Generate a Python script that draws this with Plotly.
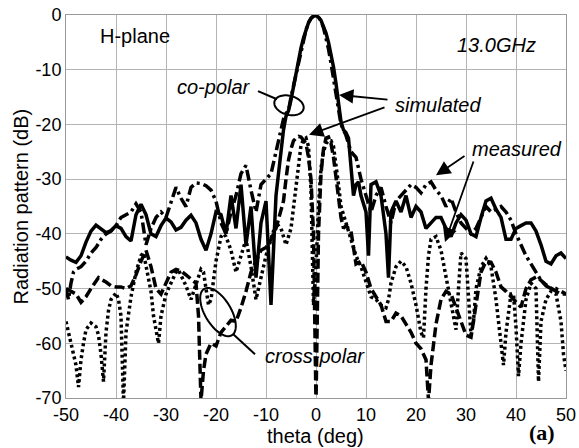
import numpy as np
import plotly.graph_objects as go

# ---------------- data (theta in deg, level in dB) ----------------
co_sim = [(-50,-44.2),(-49,-44.8),(-48,-45.2),(-47,-44),(-46,-41.5),(-45,-39.5),(-44,-38.4),(-43,-39.2),
          (-42,-39.8),(-41,-39.4),(-40,-38.5),(-39,-39),(-38,-40.5),(-37,-41.3),(-36,-36.5),(-35,-34.6),
          (-34,-36.5),(-33,-40),(-32,-40.5),(-31,-38.5),(-30,-37.1),(-29,-37.8),(-28,-39.3),(-27,-38.8),
          (-26,-37.5),(-25,-36.6),(-24,-38),(-23,-41),(-22,-43),(-21,-40),(-20,-36),(-19,-36.5),(-18,-40),
          (-17,-33),(-16,-39),(-15,-31),(-14,-42),(-13,-35),(-12,-48),(-11,-38),(-10,-34),(-9,-53),(-8,-33),
          (-7.5,-29),(-7,-25),(-6.5,-21),(-6,-18.5),(-5.5,-17.5),(-5,-15.5),(-4.5,-13),(-4,-10.5),(-3.5,-8),
          (-3,-6),(-2.5,-4.2),(-2,-2.7),(-1.5,-1.4),(-1,-0.6),(-0.5,-0.2),(0,-0.1),(0.5,-0.4),(1,-1),
          (1.5,-2),(2,-3.3),(2.5,-5),(3,-7),(3.5,-9.5),(4,-12.5),(4.5,-16),(5,-19.5),(5.5,-21),(6,-21.5),
          (6.5,-22.5),(7,-27),(7.5,-33),(8,-31),(8.5,-30.5),(9,-33),(10,-36),(10.5,-44),(11,-31),(12,-30.5),
          (13,-33),(14,-40),(14.5,-48),(15,-36),(16,-34),(17,-36),(18,-33),(19,-37),(20,-35),(21,-36),
          (22,-39),(23,-38),(24,-37),(25,-37),(26,-39),(27,-40.5),(28,-38),(29,-36.5),(30,-37.5),(31,-40),
          (32,-40.5),(33,-37),(34,-34),(35,-33.5),(36,-35.5),(37,-37),(38,-41),(39,-41),(40,-39),(41,-38.5),
          (42,-38),(43,-38),(44,-39.5),(45,-42),(46,-45),(47,-45.5),(48,-44),(49,-43.5),(50,-44.5)]

co_meas = [(-50,-50),(-49.5,-52),(-49,-49),(-48.5,-47),(-48,-46.5),(-47,-46),(-46,-45),(-45,-43.5),
           (-44,-42.5),(-43,-41),(-42,-40),(-41,-39.5),(-40,-38.5),(-39,-37),(-38,-36.5),(-37,-36),
           (-36,-34.5),(-35,-36),(-34,-42),(-33,-39),(-32,-37),(-31,-36),(-30,-37),(-29,-34),(-28,-31.5),
           (-27,-33.5),(-26,-35),(-25,-31.5),(-24,-30.7),(-23,-30.8),(-22,-31.2),(-21,-32),(-20,-34),
           (-19,-38),(-18,-40),(-17,-36),(-16,-33),(-15,-29),(-14,-27.5),(-13,-32),(-12,-36),(-11,-31),
           (-10,-30),(-9,-29),(-8,-25),(-7,-21),(-6.5,-19),(-6,-18),(-5.5,-17.5),(-5,-15),(-4.5,-13),
           (-4,-11),(-3.5,-8.5),(-3,-6.3),(-2.5,-4.3),(-2,-2.7),(-1.5,-1.4),(-1,-0.6),(-0.5,-0.2),(0,0),
           (0.5,-0.4),(1,-1.1),(1.5,-2.3),(2,-4),(2.5,-6.2),(3,-8.8),(3.5,-11.5),(4,-14),(4.5,-17),(5,-20),
           (5.5,-21),(6,-22),(7,-25),(8,-26),(9,-30),(10,-33),(11,-36),(12,-33),(13,-31.5),(14,-35),(15,-38),
           (16,-34),(17,-33),(18,-32),(19,-31),(20,-31.5),(21,-32.5),(22,-31),(23,-30.5),(24,-32),(25,-33),
           (26,-35),(27,-33.5),(28,-36),(29,-38),(30,-39),(31,-40),(32,-39),(33,-37),(34,-35),(35,-36),
           (36,-35.5),(37,-35),(38,-36),(39,-37.5),(40,-40),(41,-42),(42,-44),(43,-45.5),(44,-47),(45,-48.5),
           (46,-49.5),(47,-50),(48,-50),(49,-50.5),(50,-51)]

cross_sim = [(-50,-50),(-49,-50.5),(-48,-51),(-47,-52.5),(-46,-51.5),(-45,-50),(-44,-48.5),(-43.5,-48),
             (-43,-48.3),(-42,-48.8),(-41,-49.5),(-40,-49.7),(-39,-49.7),(-38,-50),(-37,-49.5),(-36,-47.5),
             (-35,-45),(-34,-43),(-33,-46),(-32,-50),(-31,-51),(-30,-49),(-29,-47),(-28,-46.5),(-27,-46.8),
             (-26,-47.5),(-25,-48.2),(-24,-49),(-23.5,-55),(-23,-70.5),(-22.5,-65),(-22,-62),(-21,-60),
             (-20,-60.5),(-19,-58),(-18,-57),(-17,-55.8),(-16,-56),(-15,-53.5),(-14,-50.5),(-13,-47),
             (-12,-45),(-11,-43),(-10,-42.5),(-9,-41),(-8,-39),(-7,-36),(-6.5,-34),(-6,-30),(-5.5,-26.5),
             (-5,-24.5),(-4.5,-23),(-4,-22.5),(-3.5,-22.2),(-3,-22.3),(-2.5,-22.8),(-2,-23.5),(-1.5,-26),
             (-1,-30),(-0.5,-40),(0,-71),(0.5,-40),(1,-29),(1.5,-24.5),(2,-22.5),(2.5,-22.3),(3,-23.5),
             (3.5,-26),(4,-30),(4.5,-34),(5,-37),(5.5,-39),(6,-38.5),(7,-39.5),(8,-45.5),(9,-45),(10,-47),
             (11,-50),(12,-51.5),(13,-53),(14,-56),(15,-56),(16,-54.5),(17,-55),(18,-56.5),(19,-58),(20,-60),
             (21,-61),(22,-63),(22.5,-70.5),(23,-64),(24,-56.5),(25,-52),(26,-50.5),(27,-51),(28,-53.4),
             (29,-56),(30,-58.5),(31,-58.9),(32,-53.4),(33,-47),(34,-45),(35,-45.2),(36,-47),(37,-49.7),
             (38,-50.5),(39,-51.5),(40,-52.5),(41,-53.4),(42,-50),(43,-48.4),(44,-47.9),(45,-48.5),
             (46,-49.3),(47,-50),(48,-50.5),(49,-51),(50,-51)]

cross_meas = [(-50,-56),(-49.5,-58),(-49,-60),(-48.5,-62),(-48,-64),(-47.5,-68),(-47,-63),(-46.5,-60),
              (-46,-57.5),(-45,-56.3),(-44,-57),(-43.5,-58.5),(-43,-62),(-42.5,-67),(-42,-58),(-41.5,-54),
              (-41,-52),(-40,-50.8),(-39.5,-52),(-39,-55),(-38.5,-71),(-38,-58),(-37,-51.5),(-36,-47),
              (-35,-44),(-34.5,-43.5),(-34,-46),(-33,-50.5),(-32.5,-55),(-32,-57.5),(-31.5,-60),(-31,-55),
              (-30,-51),(-29,-49),(-28,-47),(-27.5,-46.6),(-27,-47.5),(-26,-49.5),(-25,-52),(-24,-49),
              (-23,-46.5),(-22.5,-47),(-22,-50),(-21.5,-53),(-21,-52),(-20.5,-48),(-20,-45),(-19,-40.5),
              (-18.5,-40),(-18,-40.5),(-17,-43),(-16,-47),(-15,-44),(-14,-41),(-13,-46),(-12,-52),(-11,-48),
              (-10,-44),(-9,-41),(-8,-38),(-7,-39),(-6,-42),(-5,-39),(-4,-31),(-3.5,-26.5),(-3,-23.8),
              (-2.5,-22.8),(-2,-22.5),(-1.5,-24),(-1,-32),(-0.5,-53),(0,-46),(0.5,-35),(1,-28),(1.5,-25),
              (2,-23.5),(2.5,-23),(3,-23),(3.5,-24),(4,-27),(4.5,-31),(5,-35),(6,-38),(7,-41),(8,-44),(9,-46),
              (10,-49),(11,-51.5),(12,-52),(13,-53),(14,-53.5),(14.5,-52),(15,-49),(16,-46),(17,-45),(18,-46),
              (19,-49),(20,-53),(21,-58),(21.5,-59),(22,-50),(22.5,-44),(23,-41),(24,-40.5),(25,-43),(26,-48),
              (27,-53),(28,-57.5),(28.5,-50),(29,-43.5),(30,-44.5),(30.5,-52),(31,-58.5),(31.5,-56),(32,-50),
              (33,-46),(34,-44.5),(35,-46),(36,-52),(37,-60),(37.5,-64),(38,-58),(39,-51),(39.5,-51),(40,-57),
              (40.5,-66),(41,-60),(42,-52),(43,-49),(44,-50),(44.5,-67),(45,-56),(46,-52),(47,-50.5),(48,-51),
              (49,-56),(49.5,-62),(50,-65)]

x_ticks = [-50, -40, -30, -20, -10, 0, 10, 20, 30, 40, 50]
x_tick_text = ["-50", "-40", "-30", "-20", "-10", "0", "10", "20", "30", "40", "50"]
y_ticks = [0, -10, -20, -30, -40, -50, -60, -70]
y_tick_text = ["0", "-10", "-20", "-30", "-40", "-50", "-60", "-70"]

FONT = "Liberation Sans, Arial, sans-serif"

fig = go.Figure()

def add(series, dash, name):
    th = [p[0] for p in series]
    db = [p[1] for p in series]
    fig.add_trace(go.Scatter(x=th, y=db, mode="lines", name=name,
                             line=dict(color="black", width=3.5, dash=dash)))

add(cross_meas, "3px,3px", "cross measured")
add(cross_sim, "10px,4px", "cross simulated")
add(co_meas, "11px,4px,3px,4px", "co measured")
add(co_sim, "solid", "co simulated")

# ---------- decorations: ellipses (pixel scale -> data units) ----------
PX_X = 5.0      # px per degree
PX_Y = 5.47     # px per dB

def ellipse_path(cx, cy, a_px, b_px, ang_deg):
    t = np.linspace(0, 2 * np.pi, 60)
    ph = np.radians(ang_deg)
    dx = a_px * np.cos(t) * np.cos(ph) - b_px * np.sin(t) * np.sin(ph)
    dy = a_px * np.cos(t) * np.sin(ph) + b_px * np.sin(t) * np.cos(ph)
    xs = cx + dx / PX_X
    ys = cy - dy / PX_Y
    return "M " + " L ".join(f"{x:.3f},{y:.3f}" for x, y in zip(xs, ys)) + " Z"

shapes = [
    dict(type="path", xref="x", yref="y", path=ellipse_path(-5.4, -16.5, 15, 9.5, 15),
         line=dict(color="black", width=2)),
    dict(type="path", xref="x", yref="y", path=ellipse_path(-19.6, -54.3, 27, 13, 59),
         line=dict(color="black", width=2)),
    dict(type="line", xref="x", yref="y", x0=-11.6, y0=-13.9, x1=-7.8, y1=-15.4,
         line=dict(color="black", width=2)),
    dict(type="line", xref="x", yref="y", x0=-16.6, y0=-58.3, x1=-12.2, y1=-62.0,
         line=dict(color="black", width=2)),
]

lab = dict(size=20, family=FONT, color="black")
ital = dict(size=20, family=FONT, color="black", style="italic")

annotations = [
    dict(x=-36.3, y=-3.9, text="H-plane", showarrow=False, font=lab),
    dict(x=36.1, y=-5.5, text="13.0GHz", showarrow=False, font=ital),
    dict(x=-20.4, y=-13.2, text="co-polar", showarrow=False, font=ital),
    dict(x=24.4, y=-16.4, text="simulated", showarrow=False, font=ital),
    dict(x=40.1, y=-24.5, text="measured", showarrow=False, font=ital),
    dict(x=-0.3, y=-62.4, text="cross-polar", showarrow=False, font=ital),
]

arrows = [((14.6, -15.5), (4.6, -14.6)), ((14.0, -16.8), (-1.4, -21.9)),
          ((30.0, -25.6), (24.0, -29.3)), ((31.6, -26.5), (25.8, -41.5))]
for (tx, ty), (hx, hy) in arrows:
    annotations.append(dict(x=hx, y=hy, ax=tx, ay=ty, xref="x", yref="y", axref="x", ayref="y",
                            text="", showarrow=True, arrowhead=2, arrowsize=1.6, arrowwidth=1.8,
                            arrowcolor="black"))

annotations += [
    dict(xref="paper", yref="paper", x=0.498, y=-0.099, xanchor="center", yanchor="middle",
         text="theta (deg)", showarrow=False, font=dict(size=20, family=FONT, color="black")),
    dict(xref="paper", yref="paper", x=-0.092, y=0.50, xanchor="center", yanchor="middle",
         text="Radiation pattern (dB)", textangle=-90,
         showarrow=False, font=dict(size=20, family=FONT, color="black")),
    dict(xref="paper", yref="paper", x=0.952, y=-0.089, xanchor="center", yanchor="middle",
         text="<b>(a)</b>", showarrow=False,
         font=dict(size=22, family="Liberation Serif, Times New Roman, serif", color="black")),
]

axis_common = dict(showgrid=True, gridcolor="#b4b4b4", gridwidth=1, showline=True, linecolor="#9a9a9a",
                   linewidth=1, mirror=True, zeroline=False, ticks="", automargin=False,
                   tickfont=dict(size=18, family=FONT, color="black"))

fig.update_layout(
    width=579, height=448,
    margin=dict(l=66, r=13, t=15, b=50, autoexpand=False),
    paper_bgcolor="white", plot_bgcolor="white",
    showlegend=False,
    xaxis=dict(range=[-50, 50], tickvals=x_ticks, ticktext=x_tick_text, **axis_common),
    yaxis=dict(range=[-70, 0], tickvals=y_ticks, ticktext=y_tick_text, **axis_common),
    shapes=shapes,
    annotations=annotations,
)

fig.write_html("out.html", config={"displayModeBar": False},
               post_script="document.body.style.margin='0';document.body.style.overflow='hidden';")
